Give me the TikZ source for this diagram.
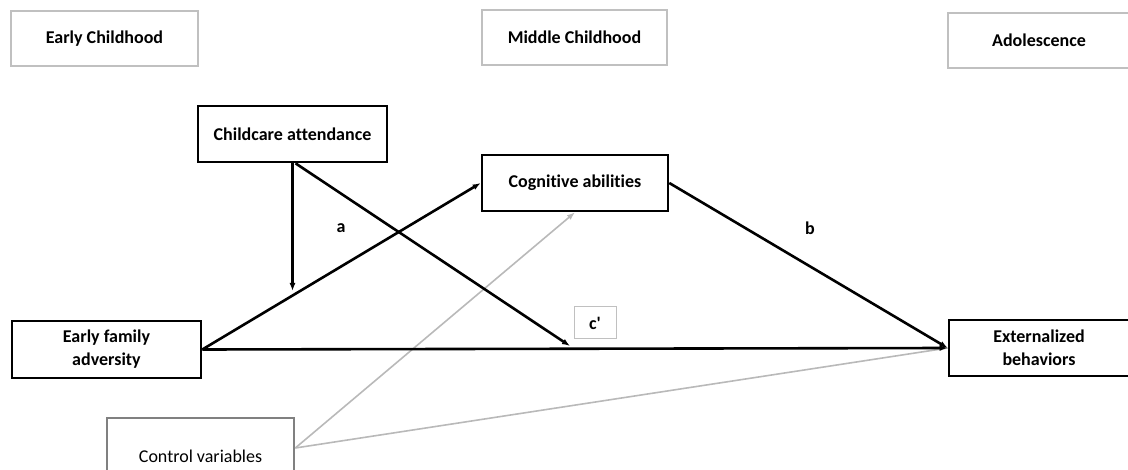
\documentclass[tikz,border=0pt]{standalone}
\usepackage{fontspec}
\setmainfont{Carlito}[Ligatures=NoCommon]
\usepackage{tikz}
\usetikzlibrary{arrows.meta}
\usepackage{xcolor}
\definecolor{periodgray}{RGB}{192, 192, 192}
\definecolor{ctrlgray}{RGB}{128, 128, 128}
\definecolor{pathgray}{RGB}{185, 185, 185}

\begin{document}
\begin{tikzpicture}[x=1pt, y=-1pt, >={Latex[length=8pt, width=6pt]},
    period/.style={draw=periodgray, line width=1.2pt, minimum height=55pt, inner sep=0pt,
      font=\fontsize{18}{23}\selectfont\bfseries},
    var/.style={draw, line width=2.6pt, minimum height=56pt, inner sep=0pt, align=center,
      font=\fontsize{18}{23}\selectfont\bfseries},
    effect/.style={->, line width=2.6pt},
    ctrlline/.style={draw=pathgray, line width=1.6pt},
    coef/.style={font=\fontsize{18}{23}\selectfont\bfseries}]
    \useasboundingbox (0, 0) rectangle (1128, 470);

    % periods
    \node[period, minimum width=187pt] (early) at (104.5, 38.5) {Early Childhood};
    \node[period, minimum width=185pt] (middle) at (574.5, 37.5) {Middle Childhood};
    \node[period, minimum width=182pt] (adol) at (1039, 40.5) {Adolescence};

    % variables
    \node[var, minimum width=189pt] (child) at (292.5, 134) {Childcare attendance};
    \node[var, minimum width=186pt] (cog) at (575, 183) {Cognitive abilities};
    \node[var, minimum width=189pt, minimum height=57pt] (efa) at (106.5, 349.5) {Early family\\adversity};
    \node[var, minimum width=180pt] (ext) at (1039, 348) {Externalized\\behaviors};
    \node[draw=ctrlgray, line width=2.6pt, minimum width=187pt, minimum height=76pt, inner sep=0pt,
      font=\fontsize{18}{23}\selectfont] (ctrl) at (200.5, 456) {Control variables};

    \node[draw=periodgray, line width=1pt, minimum width=42pt, minimum height=32pt, inner sep=0pt,
      coef] (cp) at (595, 323) {c\textquotesingle};
    \node[coef] (la) at (341, 228) {a};
    \node[coef] (lb) at (810, 228) {b};

    \coordinate (modA) at (292.5, 291);
    \coordinate (modB) at (570, 346);

    % control paths
    \draw[ctrlline, ->] ([yshift=8pt]ctrl.east) -- (cog.south);
    \draw[ctrlline] ([yshift=8pt]ctrl.east) -- (ext.west);

    % main paths
    \draw[effect] (child.south) -- (modA);
    \draw[effect] ([xshift=3pt]child.south) -- (modB);
    \draw[effect] (efa.east) -- (cog.west);
    \draw[effect] (cog.east) -- (ext.west);
    \draw[effect] (efa.east) -- (ext.west);
\end{tikzpicture}
\end{document}
